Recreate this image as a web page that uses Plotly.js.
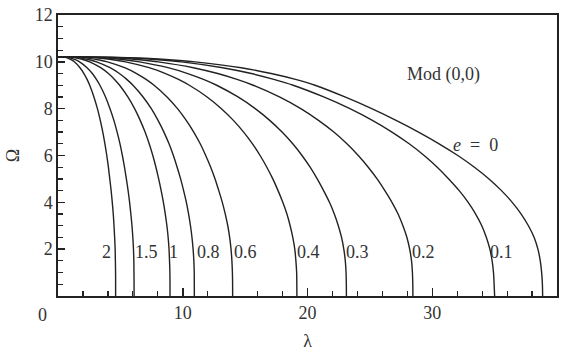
<!DOCTYPE html>
<html>
<head>
<meta charset="utf-8">
<script src="https://cdn.plot.ly/plotly-3.0.1.min.js"></script>
<style>html,body{margin:0;padding:0;background:#fff;}#chart{width:563px;height:352px;}</style>
</head>
<body>
<div id="chart"></div>
<script>
// Omega levels at which each curve's lambda was read
const omega = [10.22, 10.2, 10.15, 10.08, 10.0, 9.75, 9.5, 9.25, 9.0, 8.5, 8.0, 7.5, 7.0, 6.5, 6.0, 5.5, 5.0, 4.5, 4.0, 3.5, 3.0, 2.5, 2.0, 1.5, 1.0, 0.5, 0];

const eLabels = ["2", "1.5", "1", "0.8", "0.6", "0.4", "0.3", "0.2", "0.1", "0"];

const lam_e2  = [0, 0.50, 0.83, 1.09, 1.31, 1.76, 2.08, 2.33, 2.54, 2.88, 3.16, 3.39, 3.59, 3.76, 3.91, 4.04, 4.15, 4.26, 4.35, 4.43, 4.49, 4.54, 4.58, 4.60, 4.614, 4.619, 4.62];
const lam_e15 = [0, 0.66, 1.10, 1.44, 1.73, 2.33, 2.75, 3.08, 3.36, 3.81, 4.17, 4.48, 4.74, 4.97, 5.16, 5.33, 5.48, 5.62, 5.74, 5.84, 5.93, 6.00, 6.05, 6.08, 6.09, 6.098, 6.10];
const lam_e1  = [0, 0.98, 1.61, 2.12, 2.54, 3.42, 4.04, 4.53, 4.94, 5.60, 6.14, 6.59, 6.98, 7.31, 7.60, 7.85, 8.07, 8.27, 8.45, 8.60, 8.73, 8.83, 8.90, 8.94, 8.97, 8.977, 8.98];
const lam_e08 = [0, 1.19, 1.96, 2.58, 3.09, 4.17, 4.92, 5.51, 6.01, 6.82, 7.48, 8.02, 8.49, 8.90, 9.25, 9.55, 9.83, 10.07, 10.29, 10.47, 10.62, 10.74, 10.83, 10.89, 10.92, 10.927, 10.93];
const lam_e06 = [0, 1.52, 2.51, 3.31, 3.96, 5.34, 6.30, 7.06, 7.70, 8.74, 9.58, 10.28, 10.88, 11.40, 11.84, 12.24, 12.59, 12.89, 13.17, 13.41, 13.61, 13.76, 13.87, 13.94, 13.98, 13.996, 14.0];
const lam_e04 = [0, 2.08, 3.44, 4.53, 5.42, 7.30, 8.62, 9.66, 10.53, 11.95, 13.10, 14.06, 14.88, 15.59, 16.20, 16.74, 17.22, 17.64, 18.02, 18.35, 18.61, 18.82, 18.98, 19.07, 19.13, 19.144, 19.15];
const lam_e03 = [0, 2.52, 4.15, 5.47, 6.54, 8.82, 10.40, 11.66, 12.72, 14.43, 15.81, 16.97, 17.96, 18.82, 19.56, 20.21, 20.78, 21.29, 21.76, 22.15, 22.47, 22.73, 22.91, 23.03, 23.09, 23.113, 23.12];
const lam_e02 = [0, 3.10, 5.11, 6.73, 8.05, 10.85, 12.80, 14.35, 15.65, 17.75, 19.46, 20.88, 22.11, 23.16, 24.07, 24.87, 25.58, 26.20, 26.77, 27.26, 27.65, 27.97, 28.19, 28.34, 28.41, 28.44, 28.45];
const lam_e01 = [0, 3.81, 6.29, 8.28, 9.91, 13.20, 15.50, 17.30, 18.85, 21.30, 23.40, 25.20, 26.77, 28.15, 29.35, 30.40, 31.32, 32.16, 32.88, 33.48, 33.97, 34.34, 34.62, 34.80, 34.91, 34.96, 35.0];
const lam_e0  = [0, 4.23, 6.98, 9.19, 10.99, 14.69, 17.09, 19.04, 20.60, 23.00, 25.15, 27.10, 28.90, 30.55, 32.05, 33.38, 34.55, 35.55, 36.41, 37.13, 37.71, 38.17, 38.47, 38.66, 38.77, 38.83, 38.85];

const curves = [lam_e2, lam_e15, lam_e1, lam_e08, lam_e06, lam_e04, lam_e03, lam_e02, lam_e01, lam_e0];

// inline curve labels (lambda, Omega)
const labelText = ["2", "1.5", "1", "0.8", "0.6", "0.4", "0.3", "0.2", "0.1"];
const labelLam  = [3.9, 7.11, 9.24, 12.05, 14.99, 20.07, 24.0, 29.29, 35.57];
const labelOm   = [1.9, 1.9, 1.9, 1.9, 1.9, 1.9, 1.9, 1.9, 1.9];

const xTicks = [0, 10, 20, 30, 40];
const xTickText = ["", "10", "20", "30", "40"];
const yTicks = [0, 2, 4, 6, 8, 10, 12];
const yTickText = ["", "2", "4", "6", "8", "10", "12"];

const font = "Liberation Serif";
const txt = "#333";

const traces = curves.map((lam, i) => ({
  x: lam, y: omega, type: "scatter", mode: "lines",
  name: "e = " + eLabels[i],
  line: {color: "#222", width: 1.4, shape: "spline", smoothing: 0.8},
  hoverinfo: "skip"
}));

const annotations = labelText.map((t, i) => ({
  x: labelLam[i], y: labelOm[i], xref: "x", yref: "y", text: t,
  showarrow: false, font: {family: font, size: 18, color: txt}
}));
annotations.push({x: 30.89, y: 9.48, xref: "x", yref: "y", text: "Mod (0,0)", showarrow: false,
  font: {family: font, size: 18, color: txt}});
annotations.push({x: 33.43, y: 6.45, xref: "x", yref: "y", text: "<i>e</i>  =  0", showarrow: false,
  font: {family: font, size: 18, color: txt}});
// corner "0" label below-left of the origin
annotations.push({x: (42 - 58) / (557 - 58), y: (296 - 315) / (296 - 15), xref: "paper", yref: "paper",
  text: "0", showarrow: false, xanchor: "center", yanchor: "middle",
  font: {family: font, size: 18, color: txt}});

const layout = {
  width: 563, height: 352,
  margin: {l: 58, r: 6, t: 15, b: 56},
  paper_bgcolor: "#fff", plot_bgcolor: "#fff",
  showlegend: false,
  font: {family: font, size: 18, color: txt},
  xaxis: {
    range: [0, 40], tickmode: "array", tickvals: xTicks, ticktext: xTickText,
    ticks: "inside", ticklen: 8, tickwidth: 1.5, tickcolor: "#222",
    minor: {tickmode: "linear", tick0: 0, dtick: 2, ticks: "inside", ticklen: 5, tickwidth: 1.2, tickcolor: "#222"},
    showline: true, linecolor: "#222", linewidth: 1.6, mirror: true,
    showgrid: false, zeroline: false,
    tickfont: {family: font, size: 18, color: txt},
    title: {text: "λ", font: {family: font, size: 18, color: txt}, standoff: 12}
  },
  yaxis: {
    range: [0, 12], tickmode: "array", tickvals: yTicks, ticktext: yTickText,
    ticks: "inside", ticklen: 7, tickwidth: 1.5, tickcolor: "#222",
    minor: {tickmode: "linear", tick0: 0, dtick: 0.5, ticks: "inside", ticklen: 4.5, tickwidth: 1.2, tickcolor: "#222"},
    showline: true, linecolor: "#222", linewidth: 1.6, mirror: true,
    showgrid: false, zeroline: false,
    tickfont: {family: font, size: 18, color: txt},
    title: {text: "Ω", font: {family: font, size: 18, color: txt}, standoff: 10}
  },
  annotations: annotations
};

Plotly.newPlot("chart", traces, layout, {staticPlot: true, displayModeBar: false});
</script>
</body>
</html>
